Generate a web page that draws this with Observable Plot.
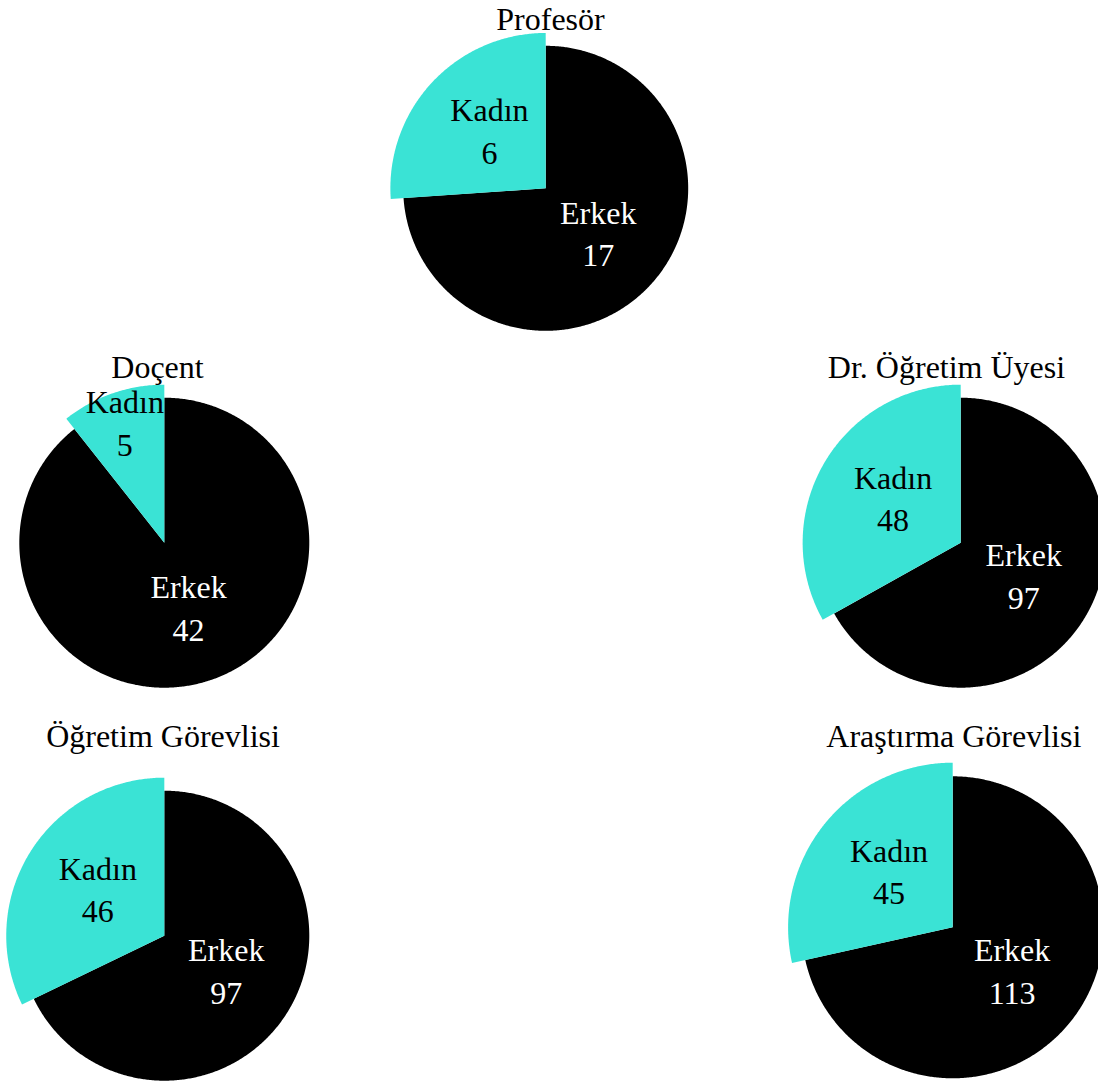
<!DOCTYPE html>
<html>
<head>
<meta charset="utf-8">
<script src="https://cdn.jsdelivr.net/npm/d3@7"></script>
<script src="https://cdn.jsdelivr.net/npm/@observablehq/plot@0.6"></script>
<style>
  html, body { margin: 0; padding: 0; background: #fff; overflow: hidden; }
  #chart svg { display: block; }
</style>
</head>
<body>
<div id="chart"></div>
<script>
// Academic staff by title and gender
const titles = ["Profesör", "Doçent", "Dr. Öğretim Üyesi", "Öğretim Görevlisi", "Araştırma Görevlisi"];
const genders = ["Kadın", "Erkek"];
const kadin = [6, 5, 48, 46, 45];
const erkek = [17, 42, 97, 97, 113];
const genderColors = ["#3ae3d5", "#000000"];

// Where each pie sits on the page (pixel units of the x/y scales)
const W = 1098, H = 1084;
const layout = [
  {cx: 545.7, cy: 188.3, r: 142.5, tx: 550, ty: 29},
  {cx: 164.3, cy: 542.7, r: 145, tx: 157, ty: 377.3},
  {cx: 960.7, cy: 542.7, r: 145, tx: 946, ty: 377.3},
  {cx: 164.3, cy: 935.7, r: 145, tx: 162.5, ty: 746.7},
  {cx: 952.7, cy: 927.3, r: 151, tx: 953.3, ty: 746}
];
const highlight = 1.09; // the Kadın wedge is drawn slightly larger
const fontSize = 32;

// Wedges start at 12 o'clock and run counter-clockwise
const pie = d3.pie().sort(null).startAngle(0).endAngle(-2 * Math.PI);

const wedgePoints = [];
const labels = [];
titles.forEach((title, i) => {
  const {cx, cy, r} = layout[i];
  const values = [kadin[i], erkek[i]];
  pie(values).forEach((a, j) => {
    const gender = genders[j];
    const radius = gender === "Kadın" ? r * highlight : r;
    const span = a.endAngle - a.startAngle;
    const n = Math.max(2, Math.ceil(Math.abs(span) / (Math.PI / 360)));
    for (let k = 0; k <= n; ++k) {
      const t = a.startAngle + span * k / n;
      wedgePoints.push({
        key: title + "|" + gender, gender,
        x: cx + radius * Math.sin(t), y: cy - radius * Math.cos(t),
        cx, cy
      });
    }
    // label at the wedge centroid; a narrow wedge pushes it outward
    // until the word fits between the two straight edges
    const mid = (a.startAngle + a.endAngle) / 2;
    const halfWidth = fontSize * 1.25;
    const fit = halfWidth / Math.sin(Math.min(Math.PI / 2, Math.abs(span) / 2));
    const rho = Math.max(radius * 0.5, Math.min(radius * 0.8, fit));
    labels.push({
      gender, value: values[j],
      x: cx + rho * Math.sin(mid), y: cy - rho * Math.cos(mid)
    });
  });
});

const headings = titles.map((t, i) => ({title: t, x: layout[i].tx, y: layout[i].ty}));
const font = "'Liberation Serif', 'Times New Roman', serif";
// draw the black wedges first so the turquoise ones sit on top
const order = (d) => d.gender === "Erkek" ? 0 : 1;
wedgePoints.sort((a, b) => order(a) - order(b));

const labelText = d => `${d.gender}\n${d.value}`;

const chart = Plot.plot({
  width: W, height: H,
  margin: 0,
  x: {domain: [0, W], axis: null},
  y: {domain: [H, 0], axis: null},
  color: {domain: genders, range: genderColors},
  style: {fontFamily: font, background: "white"},
  marks: [
    Plot.area(wedgePoints, {
      x1: "x", y1: "y", x2: "cx", y2: "cy",
      z: "key", fill: "gender", stroke: "none"
    }),
    Plot.text(labels.filter(d => d.gender === "Kadın"), {
      x: "x", y: "y", text: labelText, dy: -7,
      fill: "black", fontSize, lineHeight: 1.33, fontFamily: font
    }),
    Plot.text(labels.filter(d => d.gender === "Erkek"), {
      x: "x", y: "y", text: labelText, dy: -6,
      fill: "white", fontSize, lineHeight: 1.33, fontFamily: font
    }),
    Plot.text(headings, {
      x: "x", y: "y", text: "title", lineAnchor: "bottom",
      fill: "black", fontSize, fontFamily: font
    })
  ]
});
document.getElementById("chart").append(chart);
</script>
</body>
</html>
